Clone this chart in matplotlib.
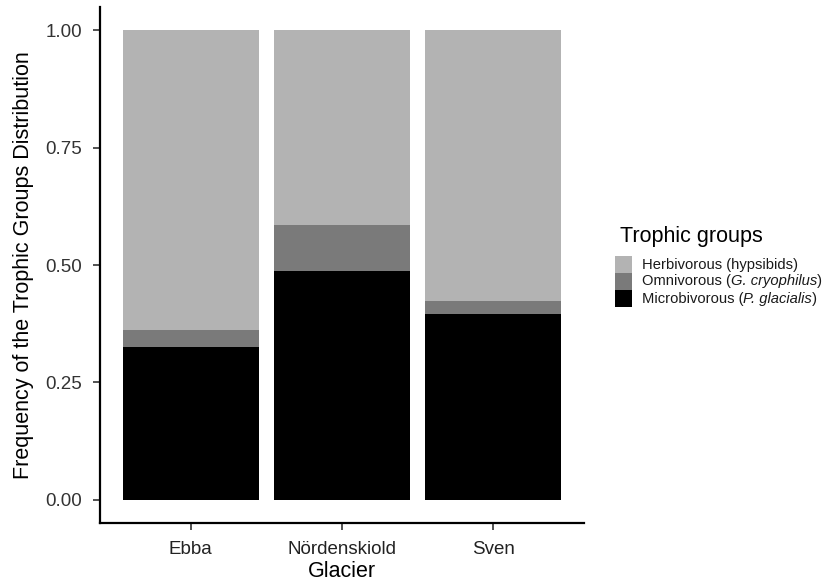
import matplotlib.pyplot as plt
import numpy as np
from matplotlib.patches import Rectangle
from matplotlib.offsetbox import AnchoredOffsetbox, HPacker, VPacker, TextArea, DrawingArea

plt.rcParams['font.family'] = ['Liberation Sans', 'DejaVu Sans']

# Stacked proportions
glaciers = ['Ebba', 'Nördenskiold', 'Sven']
microbivorous = [0.325, 0.487, 0.396]
omnivorous = [0.037, 0.098, 0.027]
herbivorous = [1 - m - o for m, o in zip(microbivorous, omnivorous)]

# legend labels as (text, italic) pieces
group_labels = [
    [('Herbivorous (hypsibids)', False)],
    [('Omnivorous (', False), ('G. cryophilus', True), (')', False)],
    [('Microbivorous (', False), ('P. glacialis', True), (')', False)],
]
colors = ['#b3b3b3', '#7a7a7a', '#000000']

fig = plt.figure(figsize=(8.26, 5.84), dpi=100)
ax = fig.add_axes([100 / 826, 61 / 584, 484 / 826, 516 / 584])

x = np.arange(len(glaciers))
width = 0.9
ax.bar(x, microbivorous, width, color=colors[2])
ax.bar(x, omnivorous, width, bottom=microbivorous, color=colors[1])
bottom2 = [m + o for m, o in zip(microbivorous, omnivorous)]
ax.bar(x, herbivorous, width, bottom=bottom2, color=colors[0])

ax.set_xlim(-0.6, 2.6)
ax.set_ylim(-0.05, 1.05)
ax.set_yticks([0, 0.25, 0.5, 0.75, 1.0])
ax.set_yticklabels(['0.00', '0.25', '0.50', '0.75', '1.00'])
ax.set_xticks(x)
ax.set_xticklabels(glaciers)

for s in ['top', 'right']:
    ax.spines[s].set_visible(False)
for s in ['left', 'bottom']:
    ax.spines[s].set_linewidth(1.6)
ax.tick_params(axis='both', labelsize=13.5, colors='#333333', width=1.2, length=5)
ax.tick_params(axis='y', labelcolor='#333333', pad=8)
ax.tick_params(axis='x', labelcolor='#222222', pad=8)

ax.set_xlabel('Glacier', fontsize=15.5, labelpad=2)
ax.set_ylabel('Frequency of the Trophic Groups Distribution', fontsize=15.5, labelpad=8)

# legend built by hand so the species names can be italic
fig.text(620 / 826, 1 - 242 / 584, 'Trophic groups', fontsize=15.5,
         ha='left', va='baseline')
key = 17 * 72 / 100  # 17 px in points
rows = []
for color, parts in zip(colors, group_labels):
    da = DrawingArea(key, key, 0, 0)
    da.add_artist(Rectangle((0, 0), key, key, facecolor=color, edgecolor='none'))
    pieces = [TextArea(t, textprops=dict(fontsize=10.6, color='#1a1a1a',
                                         style='italic' if it else 'normal'))
              for t, it in parts]
    label = HPacker(children=pieces, pad=0, sep=0, align='baseline')
    rows.append(HPacker(children=[da, label], pad=0, sep=7, align='center'))
box = VPacker(children=rows, pad=0, sep=0, align='left')
anchored = AnchoredOffsetbox(loc='upper left', child=box, pad=0, borderpad=0,
                             frameon=False,
                             bbox_to_anchor=(615 / 826, 1 - 256 / 584),
                             bbox_transform=fig.transFigure)
fig.add_artist(anchored)

fig.savefig('out.png', dpi=100)
